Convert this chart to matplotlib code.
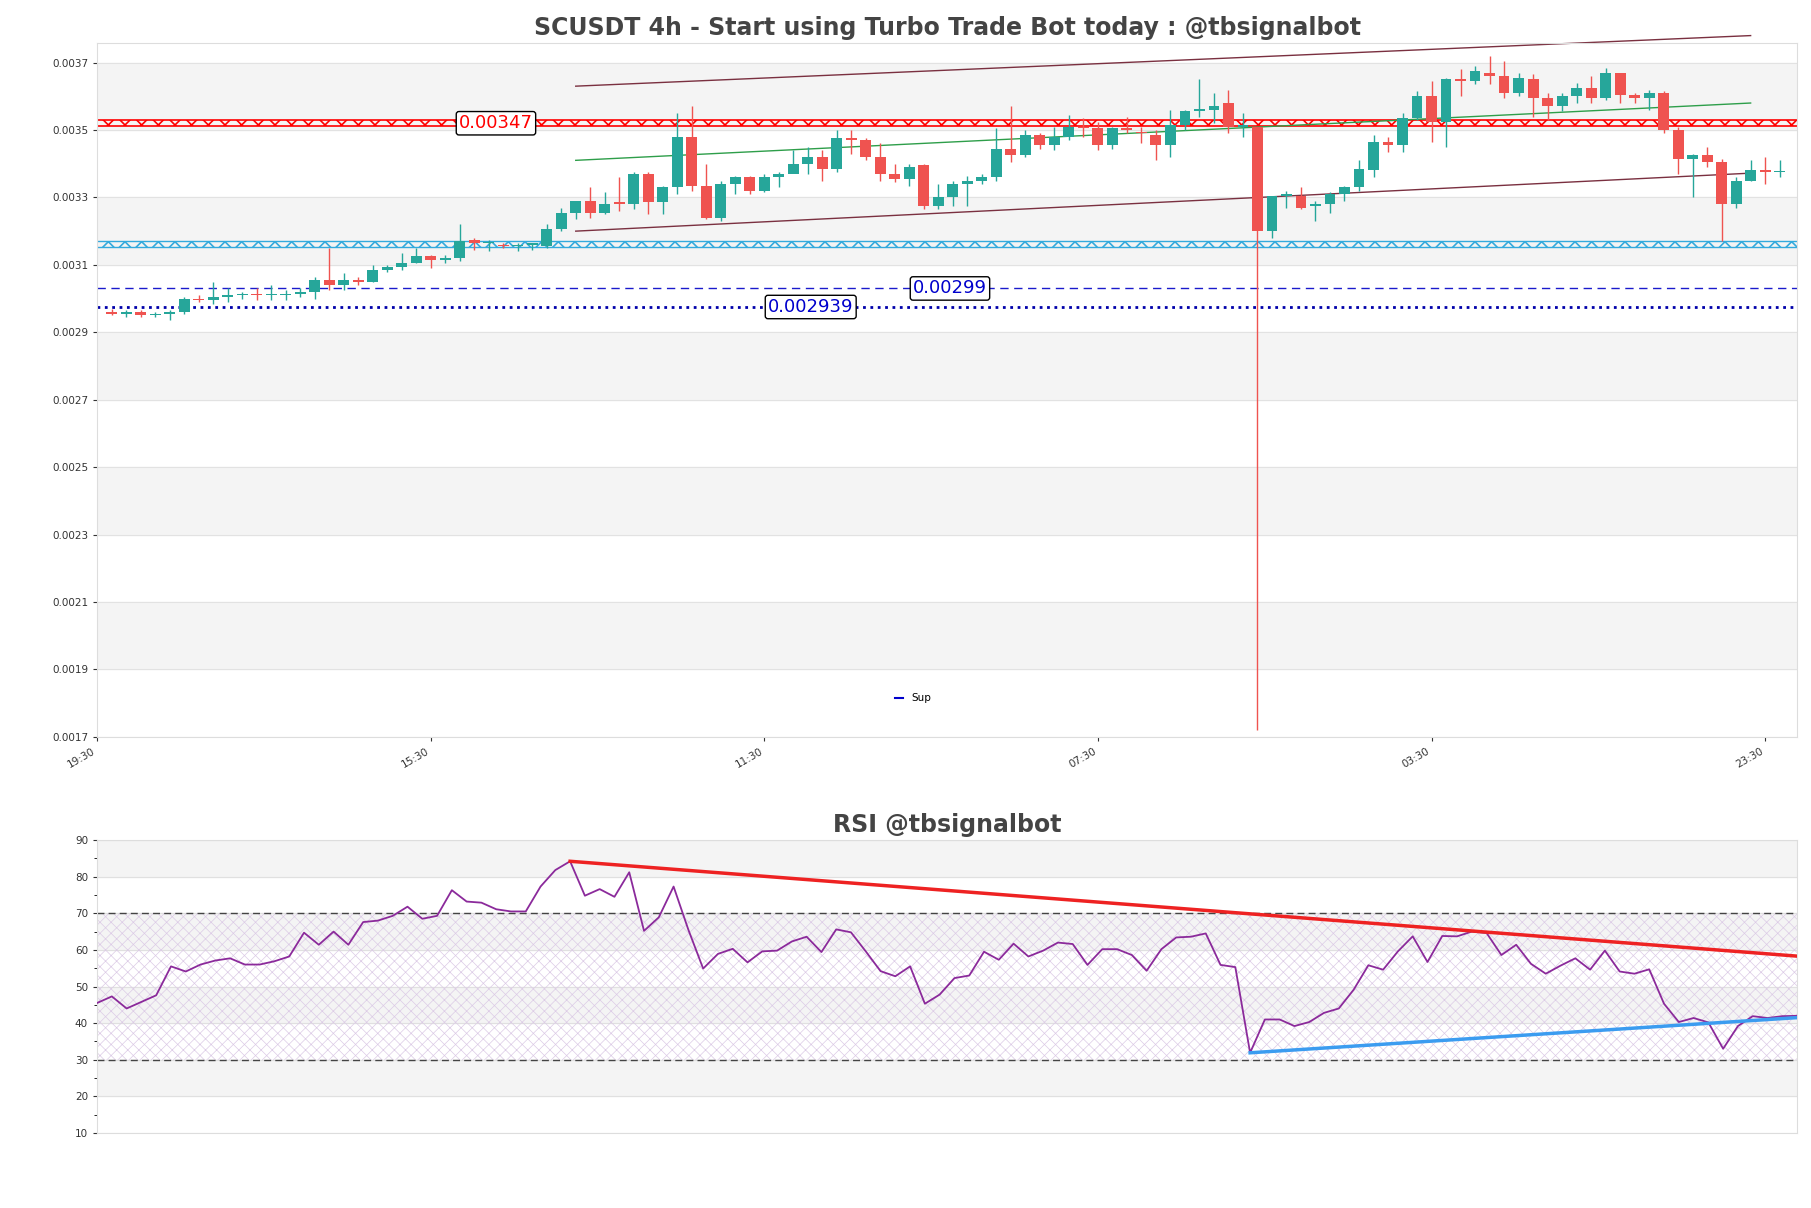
import matplotlib
matplotlib.use("Agg")
import matplotlib.pyplot as plt
from matplotlib.lines import Line2D
import numpy as np

# price data (x1e-5)
opens = [296,295.5,296,295,295.5,296,300,299.5,300.5,301,301.5,301,301,301.5,302,305.5,304,305.5,305,308.5,
         309.5,310.5,312.5,311.5,312,317.5,316.5,316,315.5,316,315.5,320.5,325.5,329,325.5,328.5,328,337,328.5,333,
         348,333.5,324,334,336,332,336,337,340,342,338.5,347.5,347,342,337,335.5,339.5,327.5,330,334,
         335,336,344.5,342.5,348.5,345.5,348,351,350.5,345.5,350.5,349.5,348.5,345.5,351.5,355.7,356,358,351,351,
         320,330.5,330.5,327.5,328,331,333,338,346.5,345.5,353.5,360,352.5,365,364.5,367,366,361,365,359.5,
         357,360,362.5,359.5,367,360.5,359.5,361,350,341.5,342.5,340.5,328,335,338,337.5]
closes = [295.5,296,295,295.5,296,300,299.5,300.5,301,301.5,301,301,301.5,302,305.5,304,305.5,305,308.5,309.5,
          310.5,312.5,311.5,312,317,316.5,316.5,315.5,316,316,320.5,325.5,329,325.5,328,328,337,328.5,333,348,
          333.5,324,334,336,332,336,337,340,342,338.5,347.5,347,342,337,335.5,339,327.5,330,334,335,
          336,344.5,342.5,348.5,345.5,348,351,350.5,345.5,350.5,350,349,345.5,351.5,355.5,356,357,351,351,320,
          330.5,331,327,328,331,333,338.5,346.5,345.5,353.5,360,352.5,365,364.5,367.5,366,361,365.5,359.5,357,
          360,362.5,359.5,367,360.5,359.5,361,350,341.5,342.5,340.5,328,335,338,337.5,337.5]
highs = [297,296.5,296.5,296,296.5,300.5,301,305,303,302,303,304,302.5,303,306.5,315,307.5,306.5,310,310,
         313.5,315,313,313,322,318,317.5,316.5,316.5,316.5,322,327,329,333,331.5,336,337.5,337.5,333.5,355,
         357,340,335,336.5,336.5,337,337.5,344,345,344,350,350,347.5,346,340,340,340,334,335,336.5,
         337,350.5,357,350,349,351,354.5,353.5,352.5,351,354,351,350,356,356,365,361,362,355,351,
         330.5,332,333,329,331.5,333.5,341,348.5,348,355,361.5,364.5,365.5,368,369,372,370.5,367,366.5,361,
         361,364,366,368.5,367,361,362,361.5,351,343,345,341.5,336,341,342,341]
lows = [295,294.5,294.5,294.5,293.5,295.5,299,298.5,299,300,299.5,299.5,299.5,300.5,300,302.5,302.5,304,305,308,
        308.5,310.5,309,310.5,311,314.5,314,315,314,314.5,315,320,323.5,324,325,326,326.5,325,325,331,
        332,323.5,323,331,331,331.5,333,337.5,337,335,337.5,343,341,335,334.5,333.5,326.5,326.5,327.5,327.5,
        334,335,340.5,342,344.5,344,347,348,344,344.5,349,346,341,342,350,354,352,349,348,172,
        318,327,326.5,323,325.5,329,332,336,343.5,343.5,353,346.5,345,360,363.5,363.5,359.5,360,354,353,
        355.5,358,358,359,358,358,356,349,337,330,339,317,327,335,334,336]
x_ticks = [0, 23, 46, 69, 92, 115]
x_labels = ["19:30", "15:30", "11:30", "07:30", "03:30", "23:30"]

rsi = [45.5,47.3,44,45.8,47.6,55.5,54.1,56,57.1,57.7,56,56,56.9,58.2,64.7,61.4,65,61.4,67.6,68,
       69.3,71.8,68.5,69.3,76.3,73.2,72.9,71.1,70.5,70.5,77.3,81.8,84.2,74.8,76.6,74.5,81.2,65.2,68.9,77.3,
       65.5,54.9,58.9,60.3,56.6,59.6,59.8,62.3,63.6,59.4,65.6,64.8,59.6,54.2,52.8,55.5,45.3,47.8,52.3,53,
       59.5,57.3,61.7,58.2,59.8,62,61.6,55.9,60.2,60.2,58.6,54.3,60.2,63.4,63.6,64.5,55.9,55.3,31.9,41,
       41,39.2,40.3,42.8,44,49.1,55.8,54.6,59.6,63.7,56.7,63.8,63.7,65,64.6,58.6,61.4,56.2,53.5,55.7,
       57.7,54.6,59.8,54.1,53.5,54.7,45.3,40.3,41.4,40.2,33,39.2,41.9,41.4,41.9,42]
rsi_peak, rsi_low = 32, 78

S = 1e-5
fig = plt.figure(figsize=(18.11, 12.08), dpi=100)
ax = fig.add_axes([0.0536, 0.390, 0.9387, 0.5744])
ax2 = fig.add_axes([0.0536, 0.0621, 0.9387, 0.2425])

for a in (ax, ax2):
    for s in a.spines.values():
        s.set_color("#dddddd")

for lo_, hi_ in [(0.0035, 0.0037), (0.0031, 0.0033), (0.0027, 0.0029), (0.0023, 0.0025), (0.0019, 0.0021)]:
    ax.axhspan(lo_, hi_, color="#f4f4f4", zorder=0)
for v in np.arange(0.0017, 0.00371, 0.0002):
    ax.axhline(v, color="#e2e2e2", lw=0.8, zorder=0.5)

up, dn = "#26a69a", "#ef5350"
idx = np.arange(1, len(opens) + 1)
for i, o, c, h, l in zip(idx, opens, closes, highs, lows):
    col = up if c >= o else dn
    ax.vlines(i, l * S, h * S, color=col, lw=1, zorder=3)
    b0, b1 = min(o, c) * S, max(o, c) * S
    if b1 - b0 < 0.4 * S:
        b1 = b0 + 0.4 * S
    ax.bar(i, b1 - b0, bottom=b0, width=0.75, color=col, zorder=4)

# zones
plt.rcParams["hatch.linewidth"] = 1.2
ax.axhspan(0.003512, 0.003530, facecolor="none", edgecolor="red", hatch="xx", lw=0, zorder=2)
ax.axhline(0.003512, color="red", lw=1.2, zorder=2)
ax.axhline(0.003530, color="red", lw=1.2, zorder=2)
ax.axhspan(0.003152, 0.003170, facecolor="none", edgecolor="#33aadd", hatch="xx", lw=0, zorder=2)
ax.axhline(0.003152, color="#33aadd", lw=1, zorder=2)
ax.axhline(0.003170, color="#33aadd", lw=1, zorder=2)
ax.axhline(0.00303, color="#1a1acc", lw=1, ls=(0, (6, 4)), zorder=2)
ax.axhline(0.002975, color="#0000aa", lw=2, ls=":", zorder=2)

bb = dict(boxstyle="round,pad=0.15", fc="white", ec="black", lw=1)
ax.text(27.5, 0.00352, "0.00347", color="red", fontsize=13, va="center", ha="center", bbox=bb, zorder=6)
ax.text(58.8, 0.00303, "0.00299", color="#0000cc", fontsize=13, va="center", ha="center", bbox=bb, zorder=6)
ax.text(49.2, 0.002975, "0.002939", color="#0000cc", fontsize=13, va="center", ha="center", bbox=bb, zorder=6)

# channel
ax.plot([33, 114], [0.003630, 0.003780], color="#7a3040", lw=1, clip_on=False)
ax.plot([33, 114], [0.003200, 0.003372], color="#7a3040", lw=1)
ax.plot([33, 114], [0.003410, 0.003580], color="#2e9e4a", lw=1)

ax.set_xlim(0, 117.2)
ax.set_ylim(0.0017, 0.003758)
yt = np.arange(0.0017, 0.00371, 0.0002)
ax.set_yticks(yt)
ax.set_yticklabels([f"{v:.4f}" for v in yt], fontsize=7.5)
ax.set_xticks(x_ticks)
ax.set_xticklabels(x_labels, rotation=30, fontsize=7.5, ha="right")
ax.tick_params(length=3, colors="#333333")
ax.set_title("SCUSDT 4h - Start using Turbo Trade Bot today : @tbsignalbot", fontsize=17,
             fontweight="bold", color="#444444", pad=6)
ax.legend(handles=[Line2D([], [], color="#0000cc", lw=1.5)], labels=["Sup"], loc="lower center",
          bbox_to_anchor=(0.48, 0.035), frameon=False, fontsize=7.5, handlelength=0.8)

# RSI
for lo_, hi_ in [(80, 90), (60, 70), (40, 50), (20, 30)]:
    ax2.axhspan(lo_, hi_, color="#f4f4f4", zorder=0)
for v in range(10, 91, 10):
    ax2.axhline(v, color="#e0e0e0", lw=0.8, zorder=0.5)
plt.rcParams["hatch.linewidth"] = 0.5
ax2.axhspan(30, 70, facecolor="none", edgecolor="#dccbe6", hatch="xxx", lw=0, zorder=1)
ax2.axhline(70, color="#444444", ls=(0, (5, 3)), lw=1, zorder=2)
ax2.axhline(30, color="#444444", ls=(0, (5, 3)), lw=1, zorder=2)
n = len(rsi)
rx = np.arange(n)
ax2.plot(rx, rsi, color="#8b2a9b", lw=1.3, zorder=3)
ax2.plot([rsi_peak, n - 1], [rsi[rsi_peak], 58.3], color="#ee2222", lw=2.5, zorder=4)
ax2.plot([rsi_low, n - 1], [rsi[rsi_low], 41.5], color="#3b9cf0", lw=2.5, zorder=4)
ax2.set_xlim(0, n - 1)
ax2.set_ylim(10, 90)
ax2.set_yticks(range(10, 91, 10))
ax2.set_yticks(range(15, 90, 10), minor=True)
ax2.set_yticklabels([str(v) for v in range(10, 91, 10)], fontsize=7.5)
ax2.set_xticks([])
ax2.tick_params(length=3, colors="#333333")
ax2.tick_params(which="minor", length=2)
ax2.set_title("RSI @tbsignalbot", fontsize=17, fontweight="bold", color="#444444", pad=6)

fig.savefig("out.png", dpi=100)
